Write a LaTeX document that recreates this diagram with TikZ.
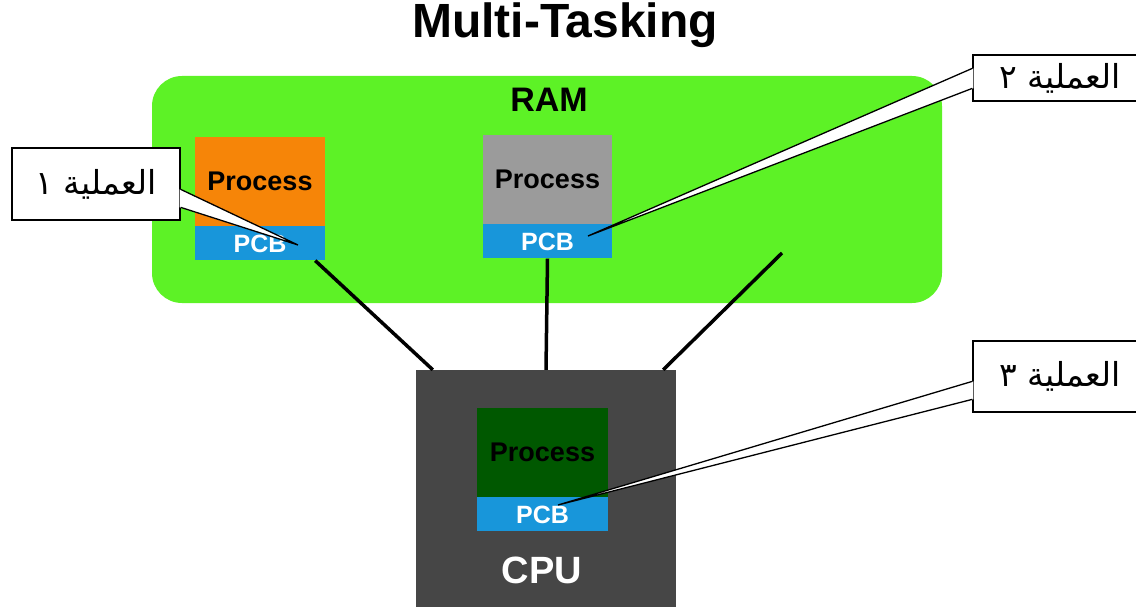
\documentclass[tikz,border=0pt]{standalone}
\usepackage{fontspec}
\setmainfont{Liberation Sans}
\newfontfamily\arabicfont[Script=Arabic]{DejaVu Sans}
\TeXXeTstate=1
\usepackage{tikz}
\usetikzlibrary{positioning,calc}

\definecolor{ramgreen}{RGB}{93,242,38}
\definecolor{procorange}{RGB}{246,133,8}
\definecolor{procgray}{RGB}{155,155,155}
\definecolor{procgreen}{RGB}{0,88,0}
\definecolor{pcbblue}{RGB}{24,150,218}
\definecolor{cpugray}{RGB}{70,70,70}

\begin{document}
\begin{tikzpicture}[x=1pt,y=-1pt,
  procbox/.style={minimum width=130, minimum height=89, inner sep=0,
    font=\fontsize{27}{30}\selectfont\bfseries},
  pcbbox/.style={fill=pcbblue, text=white, minimum width=130, minimum height=34, inner sep=0,
    font=\fontsize{25}{28}\selectfont\bfseries},
  bus/.style={line width=3.5pt, black},
  callbox/.style={draw, fill=white, line width=1.3pt, inner sep=0,
    font=\arabicfont\fontsize{33}{38}\selectfont},
  pointer/.style={line width=1.3pt}]
  \useasboundingbox (0,0) rectangle (1136,607);
  \clip (0,0) rectangle (1136,607);

  \node[font=\fontsize{48}{52}\selectfont\bfseries, anchor=base] (title) at (565,38) {Multi-Tasking};

  \node[fill=ramgreen, rounded corners=30, minimum width=790, minimum height=227] (ram) at (547,189.5) {};
  \node[font=\fontsize{34}{38}\selectfont\bfseries, anchor=base] (ramlbl) at (549,112) {RAM};

  \node[procbox, fill=procorange, minimum width=130] (proc1) at (260,181.5) {Process};
  \node[pcbbox, below=0pt of proc1] (pcb1) {PCB};
  \node[procbox, fill=procgray, minimum width=129] (proc2) at (547.5,179.5) {Process};
  \node[pcbbox, below=0pt of proc2, minimum width=129] (pcb2) {PCB};

  \coordinate (free) at (782,253);
  \node[fill=cpugray, minimum width=260, minimum height=240, inner sep=0] (cpu) at (546,490) {};
  \draw[bus] ([xshift=-10pt]pcb1.south east) -- ([xshift=17pt]cpu.north west);
  \draw[bus] (pcb2.south) -- (cpu.north);
  \draw[bus] (free) -- ([xshift=-13pt]cpu.north east);

  \node[procbox, fill=procgreen, minimum width=131] (proc3) at (542.5,452.5) {Process};
  \node[pcbbox, below=0pt of proc3, minimum width=131] (pcb3) {PCB};
  \node[font=\fontsize{38}{42}\selectfont\bfseries, text=white, anchor=base] (cpulbl) at (542,583) {CPU};

  \coordinate (tip1) at (298,245);
  \coordinate (tip2) at (588,236);
  \coordinate (tip3) at (558,505);

  \node[callbox, minimum width=168, minimum height=72] (call1) at (96,184) {\beginR العملية ١\endR};
  \fill[white] ([xshift=-1pt,yshift=-42pt]call1.north east) -- (tip1) -- ([xshift=-1pt,yshift=-60pt]call1.north east) -- cycle;
  \draw[pointer] ([yshift=-42pt]call1.north east) -- (tip1) -- ([yshift=-60pt]call1.north east);

  \node[callbox, minimum width=174, minimum height=46] (call2) at (1060,78) {\beginR العملية ٢\endR};
  \fill[white] ([xshift=1pt,yshift=-14pt]call2.north west) -- (tip2) -- ([xshift=1pt,yshift=-34pt]call2.north west) -- cycle;
  \draw[pointer] ([yshift=-14pt]call2.north west) -- (tip2) -- ([yshift=-34pt]call2.north west);

  \node[callbox, minimum width=174, minimum height=71] (call3) at (1060,376.5) {\beginR العملية ٣\endR};
  \fill[white] ([xshift=1pt,yshift=-41pt]call3.north west) -- (tip3) -- ([xshift=1pt,yshift=-59pt]call3.north west) -- cycle;
  \draw[pointer] ([yshift=-41pt]call3.north west) -- (tip3) -- ([yshift=-59pt]call3.north west);
\end{tikzpicture}
\end{document}
